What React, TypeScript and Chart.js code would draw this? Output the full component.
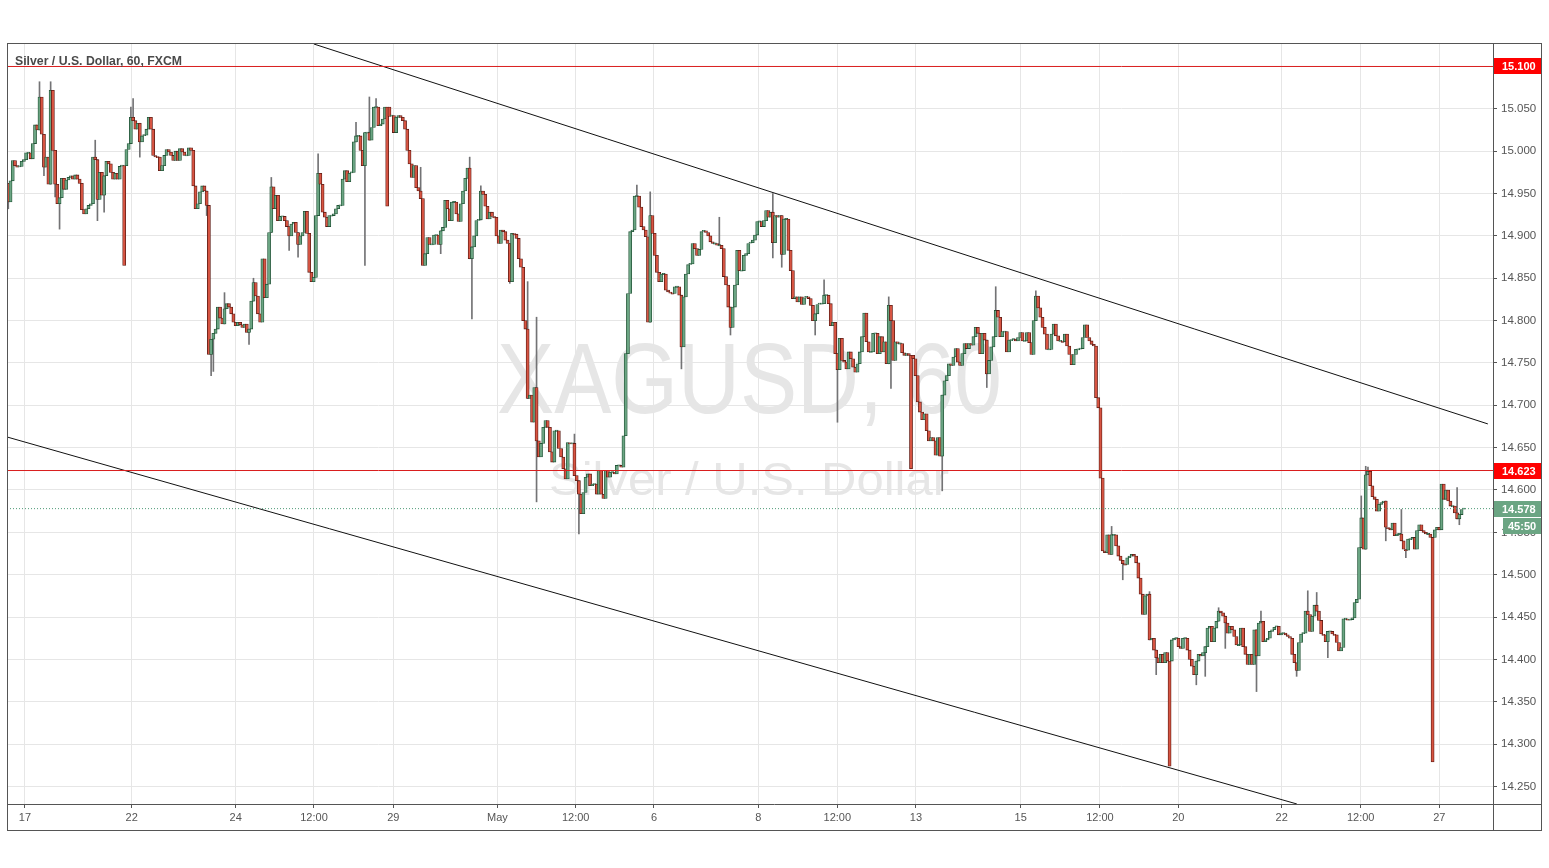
import React, { useEffect, useRef } from "react";
import { Chart, registerables } from "chart.js";

Chart.register(...registerables);

// ---------- texts ----------
const titleText = "Silver / U.S. Dollar, 60, FXCM";
const watermarkMain = "XAGUSD, 60";
const watermarkSub = "Silver / U.S. Dollar";

// ---------- hourly candles (close of each bar; open = previous close unless overridden) ----------
const firstOpen = 14.962;

const closesA = [
  14.940, 14.965, 14.989, 14.983, 14.981, 14.982, 14.988, 14.990, 14.998, 14.998,
  14.991, 15.009, 15.031, 15.025, 15.064, 15.020, 14.981, 14.993, 14.961, 15.072,
  15.001, 14.961, 14.938, 14.945, 14.968, 14.955, 14.966, 14.969, 14.971, 14.967,
  14.972, 14.967, 14.962, 14.931, 14.926, 14.932, 14.936, 14.938, 14.993, 14.990,
  14.943, 14.975, 14.948, 14.971, 14.988, 14.985, 14.975, 14.967, 14.974, 14.967,
  14.982, 14.983, 14.865, 15.002, 15.009, 15.040, 15.036, 15.026, 15.033, 15.011,
  15.018, 15.019, 15.026, 15.040, 15.026, 14.995, 14.994, 14.993, 14.977, 14.983,
  14.995, 15.002, 14.999, 14.995, 14.989, 15.000, 14.989, 15.003, 14.999, 14.995,
  14.995, 15.004, 15.001, 14.959, 14.932, 14.938, 14.952, 14.959, 14.953, 14.936,
  14.760, 14.778, 14.785, 14.790, 14.816, 14.803, 14.796, 14.814, 14.820, 14.816,
  14.808, 14.798, 14.794, 14.798, 14.795, 14.792, 14.796, 14.786, 14.790, 14.823,
  14.845, 14.829, 14.808, 14.798, 14.873,
];
const wicksA = [
  [0, null, 14.932], [14, 15.082, null], [16, null, 14.971], [19, 15.082, null],
  [21, null, 14.946], [23, null, 14.908], [39, 15.013, null], [40, null, 14.918],
  [43, null, 14.928], [55, 15.052, null], [56, 15.062, null], [59, null, 14.993],
  [89, null, 14.924], [91, null, 14.735], [92, null, 14.740], [97, 14.833, null],
  [108, null, 14.772], [110, 14.850, null],
];
const opensA = [[53, 14.983]];

const closesB = [
  14.827, 14.843, 14.904, 14.958, 14.932, 14.948, 14.918, 14.923, 14.923, 14.918,
  14.911, 14.900, 14.914, 14.916, 14.904, 14.890, 14.900, 14.904, 14.929, 14.903,
  14.857, 14.846, 14.851, 14.924, 14.974, 14.961, 14.928, 14.922, 14.911, 14.924,
  14.924, 14.926, 14.932, 14.936, 14.936, 14.967, 14.977, 14.964, 14.974, 14.975,
  15.011, 15.018, 15.018, 15.001, 14.983, 15.022, 15.022, 15.013, 15.028, 15.052,
  15.052, 15.030, 15.032, 15.038, 15.052, 14.935, 15.041, 15.042, 15.022, 15.040,
  15.042, 15.040, 15.036, 15.026, 15.001, 14.985, 14.969, 14.983, 14.957, 14.953,
  14.944, 14.865, 14.879, 14.898, 14.890, 14.890, 14.901, 14.901, 14.890, 14.906,
  14.910, 14.942, 14.932, 14.918, 14.940, 14.940, 14.926, 14.917, 14.938, 14.953,
  14.968, 14.980, 14.873, 14.887, 14.900, 14.918, 14.919, 14.953, 14.949, 14.935,
  14.920, 14.928, 14.923, 14.922, 14.900,
];
const wicksB = [
  [3, 14.969, null], [11, null, 14.883], [15, null, 14.875], [24, 14.997, null],
  [41, 15.034, null], [45, null, 14.865], [47, 15.064, null], [50, 15.062, null],
  [70, 14.981, null], [79, null, 14.879], [92, 14.993, null], [93, null, 14.802],
  [97, 14.959, null],
];
const opensB = [[56, 15.052]];

const closesC = [
  14.891, 14.907, 14.905, 14.895, 14.891, 14.846, 14.903, 14.902, 14.897, 14.873,
  14.863, 14.800, 14.790, 14.708, 14.712, 14.680, 14.721, 14.658, 14.639, 14.655,
  14.674, 14.682, 14.674, 14.645, 14.633, 14.670, 14.670, 14.649, 14.639, 14.625,
  14.613, 14.656, 14.655, 14.655, 14.617, 14.611, 14.595, 14.572, 14.597, 14.615,
  14.619, 14.605, 14.607, 14.607, 14.595, 14.623, 14.595, 14.590, 14.623, 14.615,
  14.621, 14.621, 14.619, 14.629, 14.629, 14.627, 14.664, 14.761, 14.832, 14.905,
  14.907, 14.947, 14.947, 14.934, 14.911, 14.907, 14.899, 14.798, 14.924, 14.903,
  14.877, 14.857, 14.846, 14.855, 14.855, 14.836, 14.834, 14.833, 14.832, 14.840,
  14.840, 14.830, 14.769, 14.828, 14.855, 14.866, 14.867, 14.891, 14.885, 14.877,
  14.884, 14.905, 14.906, 14.904, 14.900, 14.893, 14.891, 14.891, 14.889, 14.889,
  14.885, 14.852, 14.842, 14.816, 14.792, 14.816, 14.842, 14.883, 14.859, 14.859,
  14.877, 14.879, 14.891, 14.892, 14.895, 14.901, 14.917,
];
const wicksC = [
  [5, null, 14.844], [13, 14.846, null], [17, 14.804, 14.586], [34, 14.666, null],
  [36, null, 14.548], [62, 14.960, null], [68, 14.952, null], [82, null, 14.743],
  [99, 14.922, null], [104, null, 14.783],
];
const opensC: number[][] = [];

const closesD = [
  14.917, 14.911, 14.918, 14.930, 14.922, 14.928, 14.892, 14.924, 14.922, 14.924,
  14.878, 14.920, 14.920, 14.883, 14.859, 14.826, 14.828, 14.822, 14.828, 14.819,
  14.827, 14.828, 14.826, 14.818, 14.800, 14.808, 14.819, 14.820, 14.820, 14.830,
  14.830, 14.820, 14.794, 14.798, 14.761, 14.742, 14.779, 14.753, 14.751, 14.743,
  14.763, 14.755, 14.745, 14.739, 14.749, 14.763, 14.781, 14.809, 14.775, 14.763,
  14.763, 14.785, 14.785, 14.761, 14.781, 14.763, 14.775, 14.749, 14.818, 14.800,
  14.753, 14.775, 14.773, 14.773, 14.762, 14.759, 14.761, 14.759, 14.625, 14.755,
  14.735, 14.704, 14.692, 14.683, 14.690, 14.670, 14.658, 14.662, 14.658, 14.641,
  14.662, 14.640, 14.712, 14.729, 14.735, 14.749, 14.747, 14.757, 14.767, 14.751,
  14.747, 14.761, 14.773, 14.767, 14.773, 14.771, 14.781, 14.792, 14.785, 14.761,
  14.785, 14.777, 14.737, 14.753, 14.769, 14.781, 14.812, 14.804, 14.781, 14.787,
  14.787, 14.763, 14.777,
];
const wicksD = [
  [6, 14.950, 14.874], [10, null, 14.863], [25, null, 14.783], [29, 14.848, null],
  [35, null, 14.680], [58, 14.828, null], [59, null, 14.720], [82, null, 14.599],
  [102, null, 14.721], [106, 14.840, null],
];
const opensD = [[69, 14.759]];

const closesE = [
  14.777, 14.778, 14.776, 14.780, 14.786, 14.776, 14.776, 14.786, 14.774, 14.760,
  14.800, 14.829, 14.815, 14.804, 14.792, 14.784, 14.766, 14.766, 14.784, 14.796,
  14.782, 14.776, 14.776, 14.775, 14.784, 14.770, 14.760, 14.748, 14.760, 14.766,
  14.766, 14.767, 14.780, 14.795, 14.780, 14.776, 14.772, 14.770, 14.709, 14.697,
  14.614, 14.528, 14.526, 14.547, 14.524, 14.547, 14.547, 14.534, 14.522, 14.517,
  14.513, 14.512, 14.520, 14.522, 14.524, 14.522, 14.514, 14.496, 14.477, 14.453,
  14.475, 14.477, 14.423, 14.425, 14.411, 14.402, 14.396, 14.406, 14.396, 14.408,
  14.398, 14.274, 14.423, 14.425, 14.425, 14.415, 14.413, 14.425, 14.425, 14.411,
  14.400, 14.392, 14.382, 14.398, 14.406, 14.404, 14.408, 14.415, 14.437, 14.439,
  14.421, 14.437, 14.445, 14.457, 14.455, 14.451, 14.443, 14.431, 14.439, 14.435,
  14.427, 14.417, 14.417, 14.437, 14.415, 14.406, 14.394, 14.406, 14.394, 14.435,
  14.404, 14.443,
];
const wicksE = [
  [11, 14.835, null], [45, 14.557, null], [50, null, 14.494], [62, 14.480, null],
  [65, null, 14.382], [83, null, 14.370], [87, null, 14.380], [93, 14.461, null],
  [96, null, 14.413], [110, null, 14.362],
];
const opensE = [[72, 14.398]];

const closesF = [
  14.445, 14.421, 14.423, 14.425, 14.433, 14.435, 14.438, 14.439, 14.429, 14.431,
  14.431, 14.429, 14.427, 14.425, 14.406, 14.396, 14.387, 14.420, 14.430, 14.431,
  14.457, 14.453, 14.433, 14.451, 14.464, 14.457, 14.446, 14.430, 14.429, 14.421,
  14.433, 14.433, 14.430, 14.429, 14.420, 14.410, 14.414, 14.448, 14.448, 14.447,
  14.447, 14.449, 14.467, 14.471, 14.532, 14.567, 14.530, 14.618, 14.622, 14.605,
  14.592, 14.589, 14.575, 14.583, 14.585, 14.587, 14.556, 14.555, 14.553, 14.561,
  14.546, 14.548, 14.548, 14.540, 14.530, 14.529, 14.542, 14.542, 14.544, 14.530,
  14.552, 14.559, 14.552, 14.550, 14.548, 14.548, 14.544, 14.279, 14.553, 14.556,
  14.553, 14.607, 14.589, 14.600, 14.587, 14.581, 14.581, 14.573, 14.566, 14.571,
  14.577, 14.578,
];
const wicksF = [
  [0, 14.457, null], [16, null, 14.380], [21, 14.481, null], [25, 14.479, null],
  [30, null, 14.402], [45, 14.593, null], [47, 14.628, null], [48, 14.627, null],
  [56, null, 14.540], [63, 14.577, null], [65, null, 14.520], [88, 14.603, null],
  [89, null, 14.559],
];
const opensF = [[78, 14.544]];

// ---------- axes ----------
const xTickPos = [7.49, 55.36, 102.02, 137.15, 172.72, 219.47, 254.56, 289.68, 336.47,
  371.92, 407.22, 454.2, 489.77, 524.9, 571.28, 606.73, 641.99];
const xTickLabels = ["17", "22", "24", "12:00", "29", "May", "12:00", "6", "8",
  "12:00", "13", "15", "12:00", "20", "22", "12:00", "27"];
const priceTicks = [14.25, 14.3, 14.35, 14.4, 14.45, 14.5, 14.55, 14.6, 14.65, 14.7,
  14.75, 14.8, 14.85, 14.9, 14.95, 15.0, 15.05];

// ---------- drawings ----------
const levelLines = [15.1, 14.623];
const lastPrice = 14.578;
const countdown = "45:50";
const upperTrendX = [137.15, 663.8];
const upperTrendY = [15.1265, 14.678];
const lowerTrendX = [-0.58, 578.1];
const lowerTrendY = [14.6626, 14.2293];

const X_MIN = -0.58;
const X_MAX = 666.1;
const Y_MIN = 14.22928;
const Y_MAX = 15.12656;

const UP = "#6BA583";
const DOWN = "#D75442";
const UP_BORDER = "#225437";
const DOWN_BORDER = "#5B1A13";
const WICK = "#737375";

type Candle = { i: number; o: number; c: number; h: number | null; l: number | null };

function buildCandles(): Candle[] {
  const segments = [
    { closes: closesA, wicks: wicksA, opens: opensA },
    { closes: closesB, wicks: wicksB, opens: opensB },
    { closes: closesC, wicks: wicksC, opens: opensC },
    { closes: closesD, wicks: wicksD, opens: opensD },
    { closes: closesE, wicks: wicksE, opens: opensE },
    { closes: closesF, wicks: wicksF, opens: opensF },
  ];
  const out: Candle[] = [];
  let prev = firstOpen;
  let offset = 0;
  for (const s of segments) {
    const wm = new Map<number, any[]>();
    s.wicks.forEach((w: any[]) => wm.set(w[0], w));
    const om = new Map<number, number>();
    s.opens.forEach((o: number[]) => om.set(o[0], o[1]));
    s.closes.forEach((c, j) => {
      const o = om.has(j) ? (om.get(j) as number) : prev;
      const w = wm.get(j);
      out.push({ i: offset + j, o, c, h: w ? w[1] : null, l: w ? w[2] : null });
      prev = c;
    });
    offset += s.closes.length;
  }
  return out;
}

function fitText(ctx: CanvasRenderingContext2D, text: string, x: number, y: number,
  font: string, width: number, color: string, align: "center" | "left") {
  ctx.save();
  ctx.font = font;
  const w = ctx.measureText(text).width;
  ctx.translate(x, y);
  ctx.scale(width / w, 1);
  ctx.textAlign = align;
  ctx.textBaseline = "alphabetic";
  ctx.fillStyle = color;
  ctx.fillText(text, 0, 0);
  ctx.restore();
}

export default function App() {
  const ref = useRef<HTMLCanvasElement>(null);

  useEffect(() => {
    const candles = buildCandles();
    const bodies = candles.map((k) => {
      let top = Math.max(k.o, k.c);
      let bot = Math.min(k.o, k.c);
      if (top - bot < 0.0014) {
        top = k.c + 0.0007;
        bot = k.c - 0.0007;
      }
      return { x: k.i, y: [bot, top] };
    });
    const fills = candles.map((k) => (k.c >= k.o ? UP : DOWN));
    const borders = candles.map((k) => (k.c >= k.o ? UP_BORDER : DOWN_BORDER));
    const wicks = candles
      .filter((k) => k.h !== null || k.l !== null)
      .map((k) => {
        const top = Math.max(k.o, k.c);
        const bot = Math.min(k.o, k.c);
        return { x: k.i, y: [k.l !== null ? Math.min(k.l, bot) : bot, k.h !== null ? Math.max(k.h, top) : top] };
      });

    const lineDs = (xs: number[], ys: number[], color: string, dash: number[] = []) => ({
      type: "line" as const,
      data: xs.map((x, i) => ({ x, y: ys[i] })),
      borderColor: color,
      borderWidth: 1,
      borderDash: dash,
      pointRadius: 0,
      fill: false,
      tension: 0,
      order: 0,
    });

    const watermarkPlugin = {
      id: "watermark",
      beforeDatasetsDraw(chart: any) {
        const ctx = chart.ctx as CanvasRenderingContext2D;
        fitText(ctx, watermarkMain, 749.5, 413, '100px "Liberation Sans"', 505, "#e6e6e6", "center");
        fitText(ctx, watermarkSub, 749, 495, '46px "Liberation Sans"', 400, "#e6e6e6", "center");
      },
    };

    const overlayPlugin = {
      id: "overlay",
      afterDraw(chart: any) {
        const ctx = chart.ctx as CanvasRenderingContext2D;
        const ys = chart.scales.y;
        ctx.save();
        // frame
        ctx.strokeStyle = "#555";
        ctx.lineWidth = 1;
        ctx.strokeRect(7.5, 43.5, 1534, 787);
        ctx.beginPath();
        ctx.moveTo(1493.5, 43.5);
        ctx.lineTo(1493.5, 830.5);
        ctx.moveTo(7.5, 804.5);
        ctx.lineTo(1541.5, 804.5);
        ctx.stroke();
        // level labels
        ctx.font = 'bold 11px "Liberation Sans"';
        ctx.textBaseline = "middle";
        ctx.textAlign = "left";
        levelLines.forEach((v) => {
          const y = Math.round(ys.getPixelForValue(v));
          ctx.fillStyle = "#ff0000";
          ctx.fillRect(1494, y - 8, 47, 16);
          ctx.fillStyle = "#ffffff";
          ctx.fillText(v.toFixed(3), 1502, y + 0.5);
        });
        const yl = Math.round(ys.getPixelForValue(lastPrice));
        ctx.fillStyle = "#6BA583";
        ctx.fillRect(1494, yl - 8, 47, 16);
        ctx.fillRect(1503, yl + 9, 38, 16);
        ctx.fillStyle = "#ffffff";
        ctx.fillText(lastPrice.toFixed(3), 1502, yl + 0.5);
        ctx.fillText(countdown, 1508, yl + 17.5);
        ctx.restore();
        // title
        fitText(ctx, titleText, 15, 65, 'bold 12px "Liberation Sans"', 167, "#4a4a4a", "left");
      },
    };

    const chart = new Chart(ref.current as HTMLCanvasElement, {
      type: "bar",
      data: {
        datasets: [
          {
            type: "bar",
            data: wicks as any,
            backgroundColor: WICK,
            borderWidth: 0,
            barThickness: 1,
            grouped: false,
            order: 3,
          } as any,
          {
            type: "bar",
            data: bodies as any,
            backgroundColor: fills,
            borderColor: borders,
            borderWidth: 0.8,
            borderSkipped: false,
            barThickness: 3.1,
            grouped: false,
            order: 2,
          } as any,
          lineDs([X_MIN, X_MAX], [levelLines[0], levelLines[0]], "#d91e1e"),
          lineDs([X_MIN, X_MAX], [levelLines[1], levelLines[1]], "#d91e1e"),
          lineDs([X_MIN, X_MAX], [lastPrice, lastPrice], "#4f9b77", [1, 2]),
          lineDs(upperTrendX, upperTrendY, "#111111"),
          lineDs(lowerTrendX, lowerTrendY, "#111111"),
        ] as any,
      },
      options: {
        responsive: false,
        animation: false,
        devicePixelRatio: 1,
        events: [],
        layout: { padding: { left: 7, top: 44, right: 8, bottom: 38 } },
        plugins: { legend: { display: false }, tooltip: { enabled: false } },
        scales: {
          x: {
            type: "linear",
            min: X_MIN,
            max: X_MAX,
            offset: false,
            border: { display: false },
            grid: { color: "#e6e6e6", tickColor: "#555", tickLength: 4, drawTicks: true, offset: false },
            ticks: {
              autoSkip: false,
              maxRotation: 0,
              padding: 3,
              color: "#555",
              font: { family: '"Liberation Sans"', size: 11 },
              callback: (_v: any, i: number) => xTickLabels[i],
            },
            afterBuildTicks: (s: any) => {
              s.ticks = xTickPos.map((v) => ({ value: v }));
            },
            afterFit: (s: any) => {
              s.height = 26;
            },
          },
          y: {
            type: "linear",
            position: "right",
            min: Y_MIN,
            max: Y_MAX,
            border: { display: false },
            grid: { color: "#e6e6e6", tickColor: "#555", tickLength: 4, drawTicks: true },
            ticks: {
              autoSkip: false,
              padding: 4,
              color: "#555",
              font: { family: '"Liberation Sans"', size: 11.5 },
              callback: (v: any) => Number(v).toFixed(3),
            },
            afterBuildTicks: (s: any) => {
              s.ticks = priceTicks.map((v) => ({ value: v }));
            },
            afterFit: (s: any) => {
              s.width = 48;
            },
          },
        },
      } as any,
      plugins: [watermarkPlugin, overlayPlugin],
    });
    return () => chart.destroy();
  }, []);

  return (
    <div style={{ position: "absolute", left: 0, top: 0, width: 1549, height: 868, background: "#ffffff" }}>
      <canvas ref={ref} width={1549} height={868} style={{ display: "block" }} />
    </div>
  );
}
